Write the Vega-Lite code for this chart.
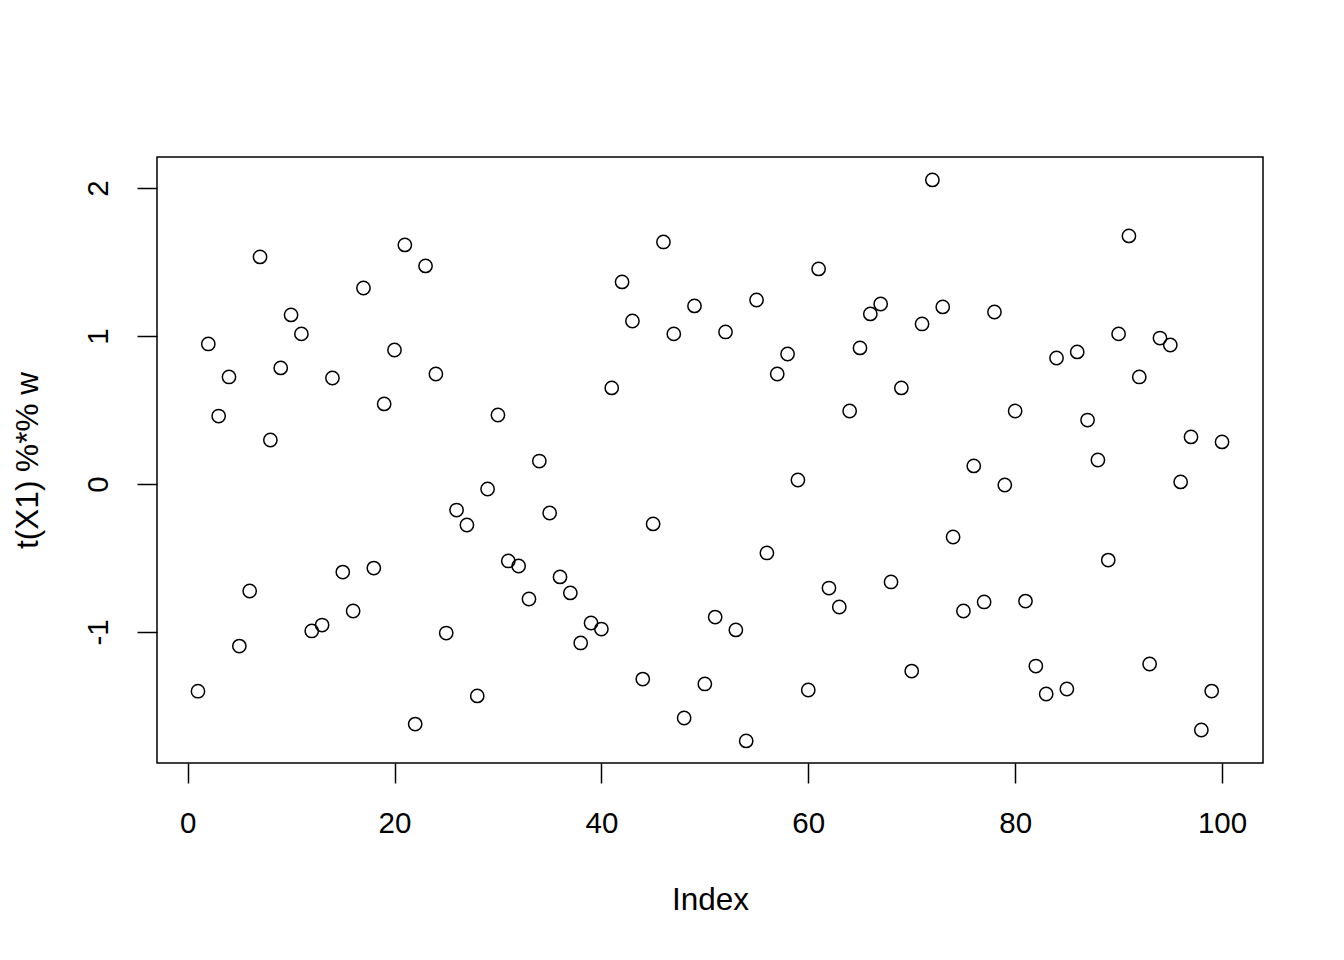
{
  "$schema": "https://vega.github.io/schema/vega-lite/v6.json",
  "autosize": "none",
  "width": 1106,
  "height": 606,
  "padding": {"left": 157, "top": 157, "right": 81, "bottom": 197},
  "background": "white",
  "config": {
    "view": {"stroke": "black", "strokeWidth": 1.5},
    "font": "Liberation Sans",
    "axis": {
      "grid": false,
      "domain": false,
      "tickColor": "black",
      "tickWidth": 1.5,
      "tickSize": 20,
      "labelFont": "Liberation Sans",
      "labelFontSize": 29.5,
      "labelColor": "black",
      "titleFont": "Liberation Sans",
      "titleFontSize": 31.5,
      "titleFontWeight": "normal",
      "titleColor": "black"
    }
  },
  "data": {
    "values": [
      {"i":1,"v":-1.40},{"i":2,"v":0.946},{"i":3,"v":0.459},{"i":4,"v":0.723},{"i":5,"v":-1.095},
      {"i":6,"v":-0.723},{"i":7,"v":1.534},{"i":8,"v":0.297},{"i":9,"v":0.784},{"i":10,"v":1.142},
      {"i":11,"v":1.014},{"i":12,"v":-0.993},{"i":13,"v":-0.953},{"i":14,"v":0.716},{"i":15,"v":-0.595},
      {"i":16,"v":-0.858},{"i":17,"v":1.324},{"i":18,"v":-0.568},{"i":19,"v":0.541},{"i":20,"v":0.905},
      {"i":21,"v":1.615},{"i":22,"v":-1.622},{"i":23,"v":1.473},{"i":24,"v":0.743},{"i":25,"v":-1.007},
      {"i":26,"v":-0.176},{"i":27,"v":-0.277},{"i":28,"v":-1.432},{"i":29,"v":-0.034},{"i":30,"v":0.466},
      {"i":31,"v":-0.520},{"i":32,"v":-0.554},{"i":33,"v":-0.777},{"i":34,"v":0.155},{"i":35,"v":-0.196},
      {"i":36,"v":-0.628},{"i":37,"v":-0.736},{"i":38,"v":-1.074},{"i":39,"v":-0.939},{"i":40,"v":-0.980},
      {"i":41,"v":0.649},{"i":42,"v":1.365},{"i":43,"v":1.101},{"i":44,"v":-1.318},{"i":45,"v":-0.270},
      {"i":46,"v":1.635},{"i":47,"v":1.014},{"i":48,"v":-1.581},{"i":49,"v":1.203},{"i":50,"v":-1.351},
      {"i":51,"v":-0.899},{"i":52,"v":1.027},{"i":53,"v":-0.986},{"i":54,"v":-1.736},{"i":55,"v":1.243},
      {"i":56,"v":-0.466},{"i":57,"v":0.743},{"i":58,"v":0.878},{"i":59,"v":0.027},{"i":60,"v":-1.392},
      {"i":61,"v":1.453},{"i":62,"v":-0.703},{"i":63,"v":-0.831},{"i":64,"v":0.493},{"i":65,"v":0.919},
      {"i":66,"v":1.149},{"i":67,"v":1.216},{"i":68,"v":-0.662},{"i":69,"v":0.649},{"i":70,"v":-1.264},
      {"i":71,"v":1.081},{"i":72,"v":2.054},{"i":73,"v":1.196},{"i":74,"v":-0.358},{"i":75,"v":-0.858},
      {"i":76,"v":0.122},{"i":77,"v":-0.797},{"i":78,"v":1.162},{"i":79,"v":-0.007},{"i":80,"v":0.493},
      {"i":81,"v":-0.791},{"i":82,"v":-1.230},{"i":83,"v":-1.419},{"i":84,"v":0.851},{"i":85,"v":-1.385},
      {"i":86,"v":0.892},{"i":87,"v":0.432},{"i":88,"v":0.162},{"i":89,"v":-0.514},{"i":90,"v":1.014},
      {"i":91,"v":1.676},{"i":92,"v":0.723},{"i":93,"v":-1.216},{"i":94,"v":0.986},{"i":95,"v":0.939},
      {"i":96,"v":0.014},{"i":97,"v":0.318},{"i":98,"v":-1.662},{"i":99,"v":-1.399},{"i":100,"v":0.284}
    ]
  },
  "mark": {"type": "point", "shape": "circle", "filled": false, "stroke": "black", "strokeWidth": 1.5, "size": 177, "opacity": 1},
  "encoding": {
    "x": {
      "field": "i", "type": "quantitative",
      "scale": {"domain": [-2.96, 103.96], "nice": false, "zero": false},
      "axis": {"values": [0, 20, 40, 60, 80, 100], "title": "Index", "labelPadding": 26, "titlePadding": 47}
    },
    "y": {
      "field": "v", "type": "quantitative",
      "scale": {"domain": [-1.885, 2.209], "nice": false, "zero": false},
      "axis": {
        "values": [-1, 0, 1, 2],
        "title": "t(X1) %*% w",
        "labelAngle": -90,
        "labelAlign": "center",
        "labelBaseline": "bottom",
        "labelPadding": 24,
        "labelExpr": "'' + datum.value",
        "titlePadding": 39
      }
    }
  }
}
